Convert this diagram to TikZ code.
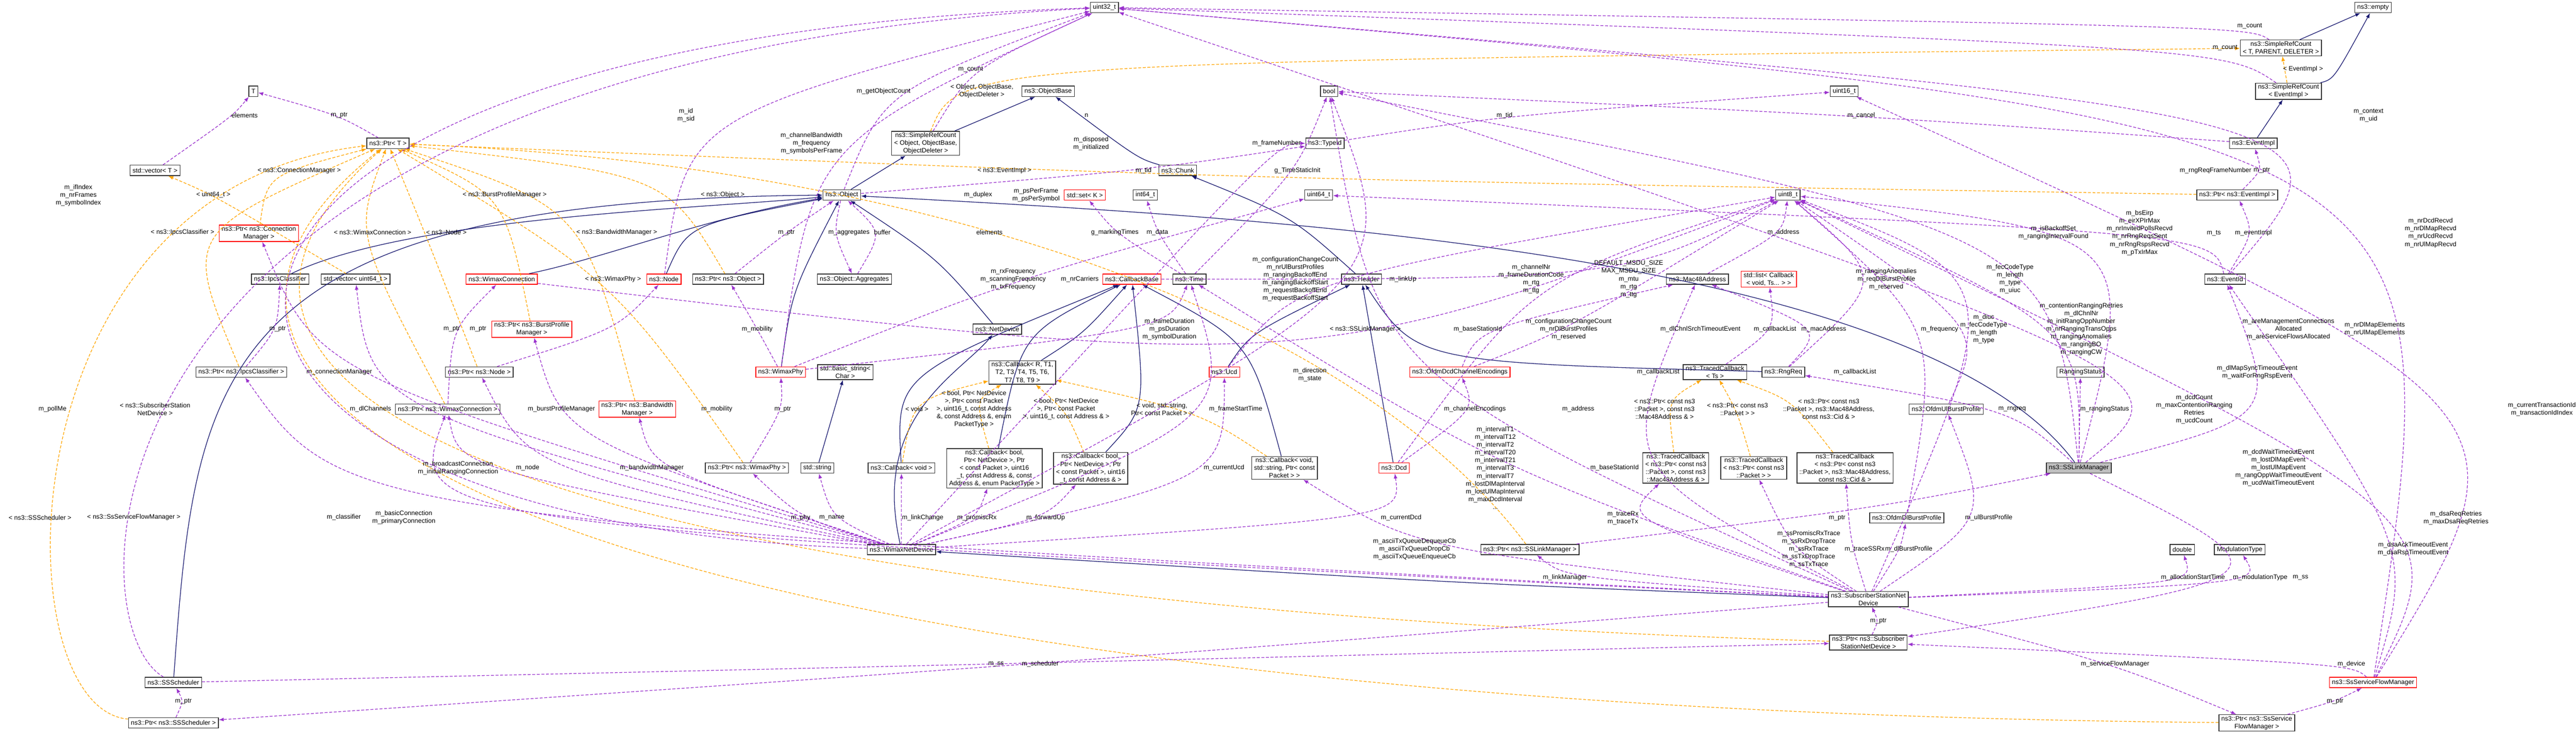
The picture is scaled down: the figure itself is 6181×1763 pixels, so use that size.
\documentclass[tikz,border=0pt]{standalone}
\usepackage{fontspec}
\setmainfont{Liberation Sans}
\usetikzlibrary{arrows.meta}
\definecolor{navy}{HTML}{191970}
\definecolor{purp}{HTML}{9A32CD}
\definecolor{orng}{HTML}{FFA500}
\newcommand\dfont{\fontsize{4.4}{5.3}\selectfont}
\newcommand\medge[3]{\draw[mem] (#1) .. controls (#3) .. (#2);}
\newcommand\tedge[3]{\draw[tmpl] (#1) .. controls (#3) .. (#2);}
\newcommand\lab[3]{\node[lbl] (#1) at (#2) {#3};}
\tikzset{
 box/.style={draw=black!80, line width=0.5pt, fill=white, font=\dfont, align=center, inner xsep=0.06cm, inner ysep=0.03cm, minimum height=0.25cm},
 rbox/.style={box, draw=red},
 gbox/.style={box, fill=black!25},
 lbl/.style={font=\dfont, align=center, inner sep=0.5pt},
 tip/.style={-{Latex[length=0.12cm,width=0.09cm]}},
 mem/.style={tip, draw=purp, line width=0.45pt, dash pattern=on 0.07cm off 0.04cm},
 tmpl/.style={tip, draw=orng, line width=0.45pt, dash pattern=on 0.07cm off 0.04cm},
 inh/.style={tip, draw=navy, line width=0.45pt},
}
\begin{document}
\begin{tikzpicture}[x=0.01cm,y=-0.01cm]
\useasboundingbox (0,0) rectangle (6181,1763);
% ---------- nodes ----------
\node[box] (T) at (608,219) {T};
\node[box] (ptrT) at (931,344) {ns3::Ptr< T >};
\node[box] (vecT) at (372,409) {std::vector< T >};
\node[rbox] (ptrCM) at (621,560) {ns3::Ptr< ns3::Connection\\Manager >};
\node[box] (ipcs) at (672,670) {ns3::IpcsClassifier};
\node[box] (vecU) at (853,670) {std::vector< uint64\_t >};
\node[rbox] (wconn) at (1204,670) {ns3::WimaxConnection};
\node[rbox] (ptrBPM) at (1276,790) {ns3::Ptr< ns3::BurstProfile\\Manager >};
\node[box] (ptrIpcs) at (579,893) {ns3::Ptr< ns3::IpcsClassifier >};
\node[box] (ptrNode) at (1150,893) {ns3::Ptr< ns3::Node >};
\node[box] (ptrWconn) at (1074,982) {ns3::Ptr< ns3::WimaxConnection >};
\node[rbox] (ptrBWM) at (1529,982) {ns3::Ptr< ns3::Bandwidth\\Manager >};
\node[box] (sssched) at (416,1638) {ns3::SSScheduler};
\node[box] (ptrSched) at (416,1735) {ns3::Ptr< ns3::SSScheduler >};
\node[box] (u32) at (2650,18) {uint32\_t};
\node[box] (objbase) at (2515,219) {ns3::ObjectBase};
\node[box] (srcObj) at (2221,344) {ns3::SimpleRefCount\\< Object, ObjectBase,\\ ObjectDeleter >};
\node[box] (chunk) at (2826,409) {ns3::Chunk};
\node[box] (object) at (2020,468) {ns3::Object};
\node[rbox] (setK) at (2603,468) {std::set< K >};
\node[box] (i64) at (2748,468) {int64\_t};
\node[rbox] (node) at (1593,670) {ns3::Node};
\node[box] (ptrObj) at (1747,670) {ns3::Ptr< ns3::Object >};
\node[box] (aggr) at (2050,670) {ns3::Object::Aggregates};
\node[rbox] (cbBase) at (2716,670) {ns3::CallbackBase};
\node[box] (time) at (2854,670) {ns3::Time};
\node[box] (netdev) at (2393,790) {ns3::NetDevice};
\node[rbox] (wphy) at (1873,893) {ns3::WimaxPhy};
\node[box] (bstr) at (2028,893) {std::basic\_string<\\ Char >};
\node[box] (cbR) at (2453,894) {ns3::Callback< R, T1,\\ T2, T3, T4, T5, T6,\\ T7, T8, T9 >};
\node[rbox] (ucd) at (2938,893) {ns3::Ucd};
\node[box] (ptrWphy) at (1792,1123) {ns3::Ptr< ns3::WimaxPhy >};
\node[box] (stdstr) at (1961,1123) {std::string};
\node[box] (cbVoid) at (2163,1123) {ns3::Callback< void >};
\node[box] (cbB7) at (2386,1124) {ns3::Callback< bool,\\ Ptr< NetDevice >, Ptr\\ < const Packet >, uint16\\ \_t, const Address \&, const\\ Address \&, enum PacketType >};
\node[box] (cbB5) at (2617,1124) {ns3::Callback< bool,\\ Ptr< NetDevice >, Ptr\\ < const Packet >, uint16\\ \_t, const Address \& >};
\node[box] (wnd) at (2163,1319) {ns3::WimaxNetDevice};
\node[box] (bool) at (3189,219) {bool};
\node[box] (u16) at (4425,219) {uint16\_t};
\node[box] (typeid) at (3179,344) {ns3::TypeId};
\node[box] (u64) at (3164,468) {uint64\_t};
\node[box] (u8) at (4290,468) {uint8\_t};
\node[box] (header) at (3267,670) {ns3::Header};
\node[box] (mac) at (4073,670) {ns3::Mac48Address};
\node[rbox] (list) at (4244,670) {std::list< Callback\\< void, Ts... > >};
\node[rbox] (dcdEnc) at (3503,893) {ns3::OfdmDcdChannelEncodings};
\node[box] (tcTs) at (4115,893) {ns3::TracedCallback\\< Ts >};
\node[box] (rngreq) at (4279,893) {ns3::RngReq};
\node[box] (cbStr) at (3082,1123) {ns3::Callback< void,\\ std::string, Ptr< const\\ Packet > >};
\node[rbox] (dcd) at (3345,1123) {ns3::Dcd};
\node[box] (ptrLM) at (3671,1319) {ns3::Ptr< ns3::SSLinkManager >};
\node[box] (tc1) at (4021,1123) {ns3::TracedCallback\\< ns3::Ptr< const ns3\\::Packet >, const ns3\\::Mac48Address \& >};
\node[box] (tc2) at (4208,1123) {ns3::TracedCallback\\< ns3::Ptr< const ns3\\::Packet > >};
\node[box] (tc3) at (4427,1123) {ns3::TracedCallback\\< ns3::Ptr< const ns3\\::Packet >, ns3::Mac48Address,\\ const ns3::Cid \& >};
\node[box] (dlbp) at (4575,1243) {ns3::OfdmDlBurstProfile};
\node[box] (ulbp) at (4670,982) {ns3::OfdmUlBurstProfile};
\node[box] (ssnd) at (4483,1438) {ns3::SubscriberStationNet\\Device};
\node[box] (ptrSSND) at (4483,1542) {ns3::Ptr< ns3::Subscriber\\StationNetDevice >};
\node[box] (empty) at (5694,18) {ns3::empty};
\node[box] (srcT) at (5473,115) {ns3::SimpleRefCount\\< T, PARENT, DELETER >};
\node[box] (srcEv) at (5491,219) {ns3::SimpleRefCount\\< EventImpl >};
\node[box] (evimpl) at (5407,344) {ns3::EventImpl};
\node[box] (ptrEv) at (5368,468) {ns3::Ptr< ns3::EventImpl >};
\node[box] (eventid) at (5339,670) {ns3::EventId};
\node[box] (rstat) at (4992,893) {RangingStatus};
\node[gbox] (sslm) at (4988,1123) {ns3::SSLinkManager};
\node[box] (double) at (5236,1319) {double};
\node[box] (modtype) at (5374,1319) {ModulationType};
\node[rbox] (ssfm) at (5694,1638) {ns3::SsServiceFlowManager};
\node[box] (ptrSSFM) at (5415,1735) {ns3::Ptr< ns3::SsService\\FlowManager >};
% ---------- inheritance ----------
\draw[inh] (srcObj) -- (objbase);
\draw[inh] (object) -- (srcObj);
\draw[inh] (chunk) .. controls (2730,380) .. (objbase);
\draw[inh] (header) .. controls (3100,520) .. (chunk);
\draw[inh] (node) .. controls (1650,540) .. (object);
\draw[inh] (ipcs) .. controls (980,520) and (1700,500) .. (object);
\draw[inh] (wconn) .. controls (1450,620) and (1700,520) .. (object);
\draw[inh] (sssched) .. controls (470,900) and (500,480) .. (object);
\draw[inh] (wphy) .. controls (1900,700) .. (object);
\draw[inh] (netdev) .. controls (2250,620) .. (object);
\draw[inh] (wnd) .. controls (2090,1000) and (2300,900) .. (netdev);
\draw[inh] (ssnd) .. controls (3500,1400) .. (wnd);
\draw[inh] (sslm) .. controls (4600,600) and (3000,520) .. (object);
\draw[inh] (stdstr) -- (bstr);
\draw[inh] (cbVoid) .. controls (2150,900) .. (cbBase);
\draw[inh] (cbB7) .. controls (2450,800) .. (cbBase);
\draw[inh] (cbB5) .. controls (2750,980) .. (cbBase);
\draw[inh] (cbStr) .. controls (3000,820) .. (cbBase);
\draw[inh] (cbR) .. controls (2600,800) .. (cbBase);
\draw[inh] (ucd) .. controls (3000,800) .. (header);
\draw[inh] (dcd) -- (header);
\draw[inh] (rngreq) .. controls (3400,870) .. (header);
\draw[inh] (srcT) -- (empty);
\draw[inh] (srcEv) .. controls (5600,190) .. (empty);
\draw[inh] (evimpl) -- (srcEv);
% ---------- template instances ----------
\tedge{vecU}{vecT}{512,468}
\tedge{ptrCM}{ptrT}{640,420}
\tedge{ptrIpcs}{ptrT}{438,558}
\tedge{ptrWconn}{ptrT}{850,560}
\tedge{ptrNode}{ptrT}{1020,560}
\tedge{ptrBPM}{ptrT}{1211,468}
\tedge{ptrBWM}{ptrT}{1400,500}
\tedge{ptrWphy}{ptrT}{1471,670}
\tedge{ptrObj}{ptrT}{1600,420}
\draw[tmpl] (ptrSched) .. controls (0,1700) and (0,450) .. (ptrT);
\draw[tmpl] (ptrSSND) .. controls (1500,1450) and (200,1000) .. (ptrT);
\draw[tmpl] (ptrSSFM) .. controls (1500,1700) and (100,1000) .. (ptrT);
\draw[tmpl] (ptrLM) .. controls (3276,790) and (2300,400) .. (ptrT);
\draw[tmpl] (ptrEv) .. controls (3000,430) .. (ptrT);
\draw[tmpl] (srcObj) .. controls (2300,150) .. (srcT);
\draw[tmpl] (srcEv) -- (srcT);
\tedge{cbVoid}{cbR}{2190,960}
\tedge{cbB7}{cbR}{2340,960}
\tedge{cbB5}{cbR}{2560,990}
\tedge{cbStr}{cbR}{2880,990}
\tedge{tc1}{tcTs}{4000,960}
\tedge{tc2}{tcTs}{4169,990}
\tedge{tc3}{tcTs}{4300,960}
% ---------- members ----------
\medge{ptrT}{T}{814,277}
\medge{vecT}{T}{560,277}
\medge{ptrIpcs}{ipcs}{666,790}
\medge{ptrWconn}{wconn}{1084,790}
\medge{ptrNode}{node}{1480,790}
\medge{ptrWphy}{wphy}{1878,982}
\medge{ptrObj}{object}{1887,558}
\medge{wphy}{ptrObj}{1817,790}
\medge{ptrSched}{sssched}{440,1683}
\medge{ptrSSND}{ssnd}{4507,1491}
\medge{ptrSSFM}{ssfm}{5603,1683}
\medge{ptrEv}{evimpl}{5427,409}
\medge{eventid}{ptrEv}{5407,559}
\medge{ptrLM}{sslm}{4500,1220}
\medge{object}{aggr}{2000,560}
\medge{aggr}{object}{2117,558}
\medge{wnd}{ptrWphy}{1921,1243}
\medge{wnd}{stdstr}{1996,1243}
\draw[mem] (wnd) -- (cbVoid);
\medge{wnd}{cbB7}{2344,1243}
\medge{wnd}{cbB5}{2509,1243}
\medge{wnd}{ucd}{2937,1150}
\medge{wnd}{ptrCM}{760,900}
\medge{wnd}{ptrWconn}{1099,1123}
\medge{wnd}{ptrNode}{1266,1123}
\medge{wnd}{ptrBPM}{1347,1050}
\medge{wnd}{ptrBWM}{1564,1123}
\medge{wnd}{vecU}{889,982}
\medge{wnd}{dcd}{3362,1243}
\medge{wnd}{time}{2960,1000}
\draw[mem] (wnd) .. controls (140,1250) and (140,100) .. (u32);
\medge{ssnd}{ptrIpcs}{825,1242}
\medge{ssnd}{ptrWconn}{969,1260}
\medge{ssnd}{ptrSched}{2496,1594}
\medge{sssched}{ptrSSND}{2390,1594}
\medge{ssnd}{ptrLM}{3755,1386}
\medge{ssnd}{cbStr}{3394,1318}
\medge{ssnd}{tc1}{3894,1243}
\medge{ssnd}{tc2}{4300,1318}
\medge{ssnd}{tc3}{4440,1300}
\medge{ssnd}{dlbp}{4560,1318}
\medge{ssnd}{ulbp}{4772,1243}
\medge{ssnd}{double}{5262,1400}
\medge{ssnd}{modtype}{5423,1400}
\medge{ssnd}{ptrSSFM}{5075,1594}
\medge{ssnd}{time}{3588,1123}
\medge{ssnd}{mac}{3874,1123}
\medge{ssnd}{bool}{3300,900}
\medge{sslm}{ptrSSND}{5520,1386}
\medge{sslm}{rngreq}{4828,982}
\draw[mem] (sslm) -- (rstat);
\medge{sslm}{eventid}{5467,1000}
\medge{sslm}{u8}{4994,790}
\medge{sslm}{u32}{5265,900}
\medge{sslm}{bool}{4927,559}
\medge{sslm}{u8}{5134,559}
\medge{ssfm}{ptrSSND}{5642,1594}
\medge{ssfm}{eventid}{5790,1318}
\medge{ssfm}{u8}{5893,1243}
\medge{ssfm}{u16}{6099,982}
\medge{ssfm}{u32}{5900,300}
\medge{wphy}{u32}{1947,344}
\medge{wphy}{time}{2806,790}
\medge{wphy}{u64}{2431,671}
\medge{node}{u32}{1646,277}
\draw[mem] (sssched) .. controls (170,1500) and (140,150) .. (u32);
\medge{evimpl}{bool}{4466,277}
\medge{eventid}{u64}{5312,559}
\medge{eventid}{u32}{5683,277}
\medge{srcT}{u32}{5398,63}
\medge{srcEv}{u32}{5339,115}
\medge{srcObj}{u32}{2329,166}
\medge{object}{u32}{2120,219}
\medge{object}{typeid}{2744,409}
\medge{time}{i64}{2777,558}
\medge{time}{setK}{2675,558}
\medge{time}{bool}{3113,409}
\medge{typeid}{u16}{3610,277}
\medge{mac}{u8}{4279,558}
\medge{tcTs}{list}{4259,790}
\medge{rngreq}{mac}{4376,790}
\medge{rngreq}{u8}{4526,670}
\medge{dcd}{dcdEnc}{3539,982}
\medge{dcd}{u8}{3674,670}
\medge{ucd}{u8}{3108,670}
\medge{dcdEnc}{mac}{3546,790}
\medge{dcdEnc}{u8}{3764,790}
\medge{wnd}{bool}{3366,670}
\medge{cbBase}{u8}{3908,670}
\medge{wnd}{typeid}{3063,344}
\medge{wconn}{u8}{3143,900}
\medge{ulbp}{u8}{4760,790}
\medge{dlbp}{u8}{4654,790}
\medge{ssnd}{u8}{4823,670}
% ---------- labels ----------
\lab{a1}{587,277}{elements}
\lab{a2}{814,277}{m\_ptr}
\lab{a3}{188,469}{m\_ifIndex\\m\_nrFrames\\m\_symbolIndex}
\lab{a4}{512,468}{< uint64\_t >}
\lab{a5}{718,409}{< ns3::ConnectionManager >}
\lab{a6}{438,558}{< ns3::IpcsClassifier >}
\lab{a7}{894,558}{< ns3::WimaxConnection >}
\lab{a8}{1071,558}{< ns3::Node >}
\lab{a9}{1211,468}{< ns3::BurstProfileManager >}
\lab{a10}{1480,558}{< ns3::BandwidthManager >}
\lab{a11}{1471,670}{< ns3::WimaxPhy >}
\lab{a12}{666,790}{m\_ptr}
\lab{a13}{1084,790}{m\_ptr}
\lab{a14}{1147,790}{m\_ptr}
\lab{b1}{2329,166}{m\_count}
\lab{b2}{2356,218}{< Object, ObjectBase,\\ObjectDeleter >}
\lab{b3}{2120,219}{m\_getObjectCount}
\lab{b4}{1646,277}{m\_id\\m\_sid}
\lab{b5}{2607,277}{n}
\lab{b6}{2618,344}{m\_disposed\\m\_initialized}
\lab{b7}{1947,344}{m\_channelBandwidth\\m\_frequency\\m\_symbolsPerFrame}
\lab{b8}{2410,409}{< ns3::EventImpl >}
\lab{b9}{2744,409}{m\_tid}
\lab{b10}{1734,468}{< ns3::Object >}
\lab{b11}{2347,468}{m\_duplex}
\lab{b12}{2486,468}{m\_psPerFrame\\m\_psPerSymbol}
\lab{b13}{1887,558}{m\_ptr}
\lab{b14}{2037,558}{m\_aggregates}
\lab{b15}{2117,558}{buffer}
\lab{b16}{2374,558}{elements}
\lab{b17}{2675,558}{g\_markingTimes}
\lab{b18}{2777,558}{m\_data}
\lab{b19}{2431,671}{m\_rxFrequency\\m\_scanningFrequency\\m\_txFrequency}
\lab{b20}{2591,670}{m\_nrCarriers}
\lab{b21}{1817,790}{m\_mobility}
\lab{b22}{2806,790}{m\_frameDuration\\m\_psDuration\\m\_symbolDuration}
\lab{c1}{3610,277}{m\_tid}
\lab{c2}{4466,277}{m\_cancel}
\lab{c3}{3063,344}{m\_frameNumber}
\lab{c4}{3113,409}{g\_TimeStaticInit}
\lab{c5}{4279,558}{m\_address}
\lab{c6}{3108,670}{m\_configurationChangeCount\\m\_nrUlBurstProfiles\\m\_rangingBackoffEnd\\m\_rangingBackoffStart\\m\_requestBackoffEnd\\m\_requestBackoffStart}
\lab{c7}{3366,670}{m\_linkUp}
\lab{c8}{3674,670}{m\_channelNr\\m\_frameDurationCode\\m\_rtg\\m\_ttg}
\lab{c9}{3908,670}{DEFAULT\_MSDU\_SIZE\\MAX\_MSDU\_SIZE\\m\_mtu\\m\_rtg\\m\_ttg}
\lab{c10}{4526,670}{m\_rangingAnomalies\\m\_reqDlBurstProfile\\m\_reserved}
\lab{c11}{3276,790}{< ns3::SSLinkManager >}
\lab{c12}{3546,790}{m\_baseStationId}
\lab{c13}{3764,790}{m\_configurationChangeCount\\m\_nrDlBurstProfiles\\m\_reserved}
\lab{c14}{4080,790}{m\_dlChnlSrchTimeoutEvent}
\lab{c15}{4259,790}{m\_callbackList}
\lab{c16}{4376,790}{m\_macAddress}
\lab{c17}{3143,900}{m\_direction\\m\_state}
\lab{c18}{3979,893}{m\_callbackList}
\lab{c19}{4451,893}{m\_callbackList}
\lab{d1}{5398,63}{m\_count}
\lab{d2}{5339,115}{m\_count}
\lab{d3}{5526,166}{< EventImpl >}
\lab{d4}{5683,277}{m\_context\\m\_uid}
\lab{d5}{5316,409}{m\_rngReqFrameNumber}
\lab{d6}{5427,409}{m\_ptr}
\lab{d7}{5134,559}{m\_bsEirp\\m\_eirXPIrMax\\m\_nrInvitedPollsRecvd\\m\_nrRngReqsSent\\m\_nrRngRspsRecvd\\m\_pTxIrMax}
\lab{d8}{4927,559}{m\_isBackoffSet\\m\_rangingIntervalFound}
\lab{d9}{5312,559}{m\_ts}
\lab{d10}{5407,559}{m\_eventImpl}
\lab{d11}{5832,559}{m\_nrDcdRecvd\\m\_nrDlMapRecvd\\m\_nrUcdRecvd\\m\_nrUlMapRecvd}
\lab{d12}{4823,670}{m\_fecCodeType\\m\_length\\m\_type\\m\_uiuc}
\lab{d13}{4994,790}{m\_contentionRangingRetries\\m\_dlChnlNr\\m\_initRangOppNumber\\m\_nrRangingTransOpps\\m\_rangingAnomalies\\m\_rangingBO\\m\_rangingCW}
\lab{d14}{5491,790}{m\_areManagementConnections\\Allocated\\m\_areServiceFlowsAllocated}
\lab{d15}{5698,790}{m\_nrDlMapElements\\m\_nrUlMapElements}
\lab{d16}{4654,790}{m\_frequency}
\lab{d17}{4760,790}{m\_diuc\\m\_fecCodeType\\m\_length\\m\_type}
\lab{e1}{126,982}{m\_pollMe}
\lab{e2}{372,982}{< ns3::SubscriberStation\\NetDevice >}
\lab{e3}{814,893}{m\_connectionManager}
\lab{e4}{889,982}{m\_dlChannels}
\lab{e5}{1347,982}{m\_burstProfileManager}
\lab{e6}{1099,1123}{m\_broadcastConnection\\m\_initialRangingConnection}
\lab{e7}{1266,1123}{m\_node}
\lab{e8}{96,1242}{< ns3::SSScheduler >}
\lab{e9}{321,1242}{< ns3::SsServiceFlowManager >}
\lab{e10}{825,1242}{m\_classifier}
\lab{e11}{969,1242}{m\_basicConnection\\m\_primaryConnection}
\lab{e12}{440,1683}{m\_ptr}
\lab{f1}{1564,1123}{m\_bandwidthManager}
\lab{f2}{1720,982}{m\_mobility}
\lab{f3}{1878,982}{m\_ptr}
\lab{f4}{2200,982}{< void >}
\lab{f5}{2337,982}{< bool, Ptr< NetDevice\\>, Ptr< const Packet\\>, uint16\_t, const Address\\\&, const Address \&, enum\\PacketType >}
\lab{f6}{2558,982}{< bool, Ptr< NetDevice\\>, Ptr< const Packet\\>, uint16\_t, const Address \& >}
\lab{f7}{2788,982}{< void, std::string,\\Ptr< const Packet > >}
\lab{f8}{2965,982}{m\_frameStartTime}
\lab{f9}{1921,1243}{m\_phy}
\lab{f10}{1996,1243}{m\_name}
\lab{f11}{2214,1243}{m\_linkChange}
\lab{f12}{2344,1243}{m\_promiscRx}
\lab{f13}{2509,1243}{m\_forwardUp}
\lab{f14}{2937,1123}{m\_currentUcd}
\lab{f15}{2390,1594}{m\_ss}
\lab{f16}{2496,1594}{m\_scheduler}
\lab{g1}{3539,982}{m\_channelEncodings}
\lab{g2}{3787,982}{m\_address}
\lab{g3}{3994,982}{< ns3::Ptr< const ns3\\::Packet >, const ns3\\::Mac48Address \& >}
\lab{g4}{4169,982}{< ns3::Ptr< const ns3\\::Packet > >}
\lab{g5}{4388,982}{< ns3::Ptr< const ns3\\::Packet >, ns3::Mac48Address,\\const ns3::Cid \& >}
\lab{g6}{3588,1123}{m\_intervalT1\\m\_intervalT12\\m\_intervalT2\\m\_intervalT20\\m\_intervalT21\\m\_intervalT3\\m\_intervalT7\\m\_lostDlMapInterval\\m\_lostUlMapInterval\\m\_maxDcdInterval\\...}
\lab{g7}{3874,1123}{m\_baseStationId}
\lab{g8}{3362,1243}{m\_currentDcd}
\lab{g9}{3894,1243}{m\_traceRx\\m\_traceTx}
\lab{g10}{4408,1243}{m\_ptr}
\lab{g11}{3394,1318}{m\_asciiTxQueueDequeueCb\\m\_asciiTxQueueDropCb\\m\_asciiTxQueueEnqueueCb}
\lab{g12}{4340,1318}{m\_ssPromiscRxTrace\\m\_ssRxDropTrace\\m\_ssRxTrace\\m\_ssTxDropTrace\\m\_ssTxTrace}
\lab{g13}{4474,1318}{m\_traceSSRx}
\lab{g14}{4580,1318}{m\_dlBurstProfile}
\lab{g15}{3755,1386}{m\_linkManager}
\lab{g16}{4507,1491}{m\_ptr}
\lab{h1}{4828,982}{m\_rngreq}
\lab{h2}{5050,982}{m\_rangingStatus}
\lab{h3}{5265,982}{m\_dcdCount\\m\_maxContentionRanging\\Retries\\m\_ucdCount}
\lab{h4}{5416,893}{m\_dlMapSyncTimeoutEvent\\m\_waitForRngRspEvent}
\lab{h5}{5467,1123}{m\_dcdWaitTimeoutEvent\\m\_lostDlMapEvent\\m\_lostUlMapEvent\\m\_rangOppWaitTimeoutEvent\\m\_ucdWaitTimeoutEvent}
\lab{h6}{6099,982}{m\_currentTransactionId\\m\_transactionIdIndex}
\lab{h7}{5893,1243}{m\_dsaReqRetries\\m\_maxDsaReqRetries}
\lab{h8}{4772,1243}{m\_ulBurstProfile}
\lab{h9}{5790,1318}{m\_dsaAckTimeoutEvent\\m\_dsaRspTimeoutEvent}
\lab{h10}{5262,1386}{m\_allocationStartTime}
\lab{h11}{5423,1386}{m\_modulationType}
\lab{h12}{5520,1386}{m\_ss}
\lab{h13}{5075,1594}{m\_serviceFlowManager}
\lab{h14}{5642,1594}{m\_device}
\lab{h15}{5603,1683}{m\_ptr}
\end{tikzpicture}
\end{document}
